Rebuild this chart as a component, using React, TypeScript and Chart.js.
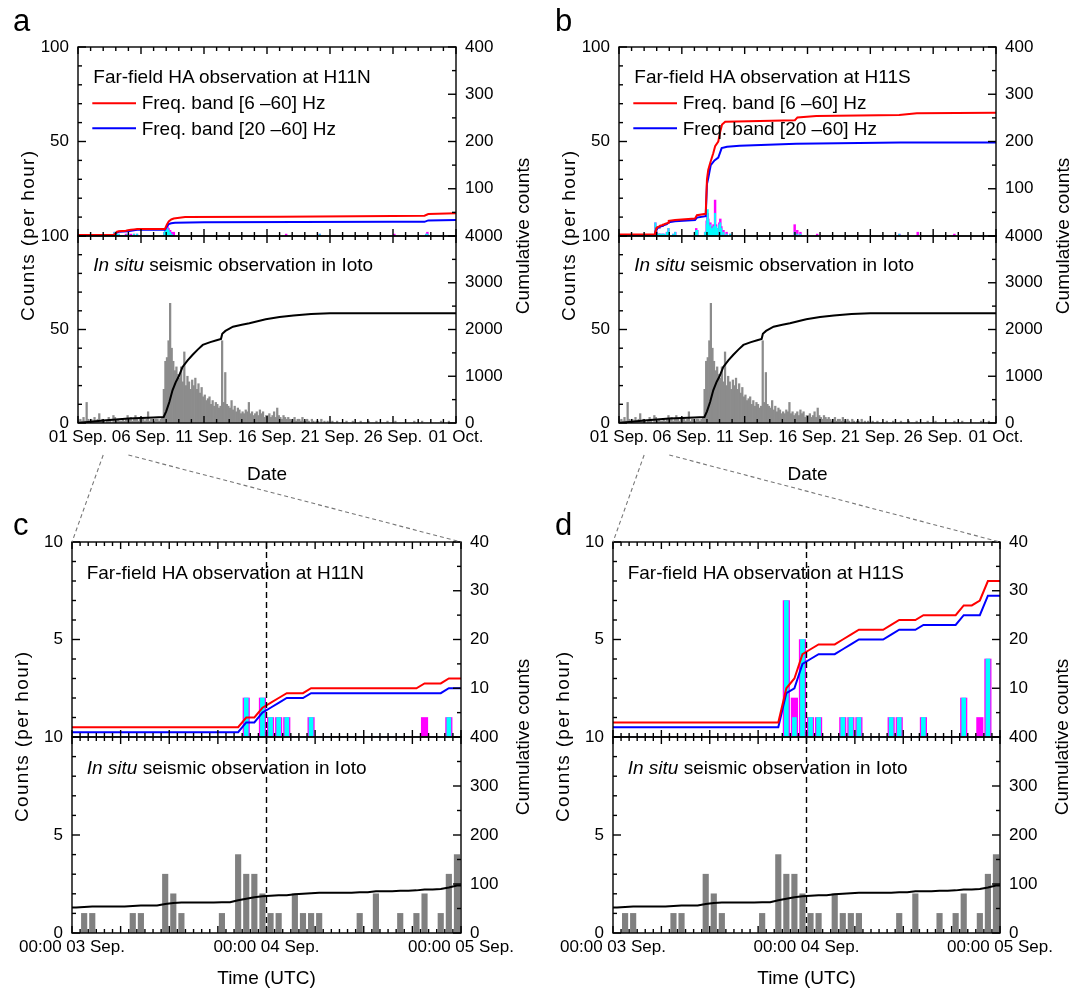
import React, { useEffect, useRef } from 'react';
import { Chart, registerables } from 'chart.js';

Chart.register(...registerables);

// ---------------- data ----------------
const MONTH_TICK_LABELS = ['01 Sep.', '06 Sep.', '11 Sep.', '16 Sep.', '21 Sep.', '26 Sep.', '01 Oct.'];
const ZOOM_TICK_LABELS = ['00:00 03 Sep.', '00:00 04 Sep.', '00:00 05 Sep.'];

// In situ seismic counts per hour, 03 Sep 00:00 .. 05 Sep 00:00 (hour 0..47)
const SEISMIC_HOURLY_SEP3_4 = [
  0, 1, 1, 0, 0, 0, 0, 1, 1, 0,
  0, 3, 2, 1, 0, 0, 0, 0, 1, 0,
  4, 3, 3, 2, 1, 1, 0, 2, 1, 1,
  1, 0, 0, 0, 0, 1, 0, 2, 0, 0,
  1, 0, 1, 2, 0, 1, 3, 4,
];
const SEISMIC_CUM_SEP3_4 = [
  52, 53, 54, 54, 54, 54, 54, 55, 56, 56,
  56, 59, 61, 62, 62, 62, 62, 62, 63, 63,
  67, 70, 73, 75, 76, 77, 77, 79, 80, 81,
  82, 82, 82, 82, 82, 83, 83, 85, 85, 85,
  86, 86, 87, 89, 89, 90, 93, 97,
];

// Far-field HA counts per hour at H11N, 03 Sep .. 05 Sep
const H11N_6_60_HOURLY = [
  0, 0, 0, 0, 0, 0, 0, 0, 0, 0,
  0, 0, 0, 0, 0, 0, 0, 0, 0, 0,
  0, 2, 0, 2, 1, 1, 1, 0, 0, 1,
  0, 0, 0, 0, 0, 0, 0, 0, 0, 0,
  0, 0, 0, 1, 0, 0, 1, 0,
];
const H11N_20_60_HOURLY = [
  0, 0, 0, 0, 0, 0, 0, 0, 0, 0,
  0, 0, 0, 0, 0, 0, 0, 0, 0, 0,
  0, 2, 0, 2, 1, 1, 1, 0, 0, 1,
  0, 0, 0, 0, 0, 0, 0, 0, 0, 0,
  0, 0, 0, 0, 0, 0, 1, 0,
];
const H11N_6_60_CUM = [
  2, 2, 2, 2, 2, 2, 2, 2, 2, 2,
  2, 2, 2, 2, 2, 2, 2, 2, 2, 2,
  2, 4, 4, 6, 7, 8, 9, 9, 9, 10,
  10, 10, 10, 10, 10, 10, 10, 10, 10, 10,
  10, 10, 10, 11, 11, 11, 12, 12,
];
const H11N_20_60_CUM = [
  1, 1, 1, 1, 1, 1, 1, 1, 1, 1,
  1, 1, 1, 1, 1, 1, 1, 1, 1, 1,
  1, 3, 3, 5, 6, 7, 8, 8, 8, 9,
  9, 9, 9, 9, 9, 9, 9, 9, 9, 9,
  9, 9, 9, 9, 9, 9, 10, 10,
];

// Far-field HA counts per hour at H11S, 03 Sep .. 05 Sep
const H11S_6_60_HOURLY = [
  0, 0, 0, 0, 0, 0, 0, 0, 0, 0,
  0, 0, 0, 0, 0, 0, 0, 0, 0, 0,
  0, 7, 2, 5, 1, 1, 0, 0, 1, 1,
  1, 0, 0, 0, 1, 1, 0, 0, 1, 0,
  0, 0, 0, 2, 0, 1, 4, 0,
];
const H11S_20_60_HOURLY = [
  0, 0, 0, 0, 0, 0, 0, 0, 0, 0,
  0, 0, 0, 0, 0, 0, 0, 0, 0, 0,
  0, 7, 1, 5, 1, 1, 0, 0, 1, 1,
  1, 0, 0, 0, 1, 1, 0, 0, 1, 0,
  0, 0, 0, 2, 0, 0, 4, 0,
];
const H11S_6_60_CUM = [
  3, 3, 3, 3, 3, 3, 3, 3, 3, 3,
  3, 3, 3, 3, 3, 3, 3, 3, 3, 3,
  3, 10, 12, 17, 18, 19, 19, 19, 20, 21,
  22, 22, 22, 22, 23, 24, 24, 24, 25, 25,
  25, 25, 25, 27, 27, 28, 32, 32,
];
const H11S_20_60_CUM = [
  2, 2, 2, 2, 2, 2, 2, 2, 2, 2,
  2, 2, 2, 2, 2, 2, 2, 2, 2, 2,
  2, 9, 10, 15, 16, 17, 17, 17, 18, 19,
  20, 20, 20, 20, 21, 22, 22, 22, 23, 23,
  23, 23, 23, 25, 25, 25, 29, 29,
];

// In situ seismic counts per hour, 3-hour bins over 01 Sep .. 01 Oct (one row per day)
const SEISMIC_3H_BINS = [
  1, 2, 1, 3, 1, 11, 2, 1,
  2, 1, 3, 1, 2, 5, 1, 2,
  1, 0, 1, 3, 2, 0, 4, 3,
  1, 2, 1, 1, 2, 1, 2, 4,
  2, 3, 1, 2, 4, 2, 1, 3,
  3, 2, 1, 2, 6, 1, 2, 2,
  1, 2, 2, 1, 2, 3, 18, 33,
  35, 44, 64, 40, 33, 28, 30, 26,
  24, 30, 22, 38, 20, 25, 22, 18,
  23, 20, 24, 18, 21, 16, 19, 14,
  15, 12, 13, 14, 10, 12, 9, 11,
  10, 8, 9, 44, 11, 27, 10, 9,
  8, 12, 7, 9, 6, 8, 7, 5,
  6, 5, 7, 6, 11, 5, 6, 4,
  5, 6, 4, 7, 5, 6, 3, 4,
  4, 5, 3, 4, 6, 3, 8, 4,
  3, 2, 4, 3, 2, 3, 2, 1,
  2, 3, 1, 2, 2, 1, 3, 1,
  1, 2, 1, 0, 2, 1, 0, 1,
  1, 0, 2, 0, 1, 0, 1, 0,
  0, 1, 0, 0, 1, 0, 0, 0,
  0, 0, 1, 0, 0, 0, 1, 0,
  0, 0, 0, 1, 0, 0, 0, 0,
  1, 0, 0, 0, 0, 1, 0, 0,
  0, 0, 0, 0, 1, 0, 0, 0,
  0, 1, 0, 0, 0, 0, 0, 0,
  0, 0, 0, 0, 0, 1, 0, 0,
  0, 0, 1, 0, 0, 0, 0, 0,
  0, 0, 0, 0, 0, 0, 1, 0,
  0, 0, 0, 1, 0, 0, 0, 0,
];
const SEISMIC_CUM_MONTH_DAY = [0, 1, 2, 3, 4, 5, 6, 6.8, 7.0, 7.25, 7.5, 7.75, 8.0, 8.3, 8.7, 9.1, 9.5, 9.9, 10.5, 11.0, 11.35, 11.45, 11.7, 12.3, 13.0, 13.6, 14.9, 16.0, 17.1, 18.5, 20.0, 30.0];
const SEISMIC_CUM_MONTH_VAL = [0, 28, 52, 75, 97, 108, 118, 128, 250, 450, 700, 870, 1000, 1200, 1340, 1460, 1570, 1670, 1730, 1770, 1800, 1910, 1970, 2060, 2100, 2135, 2220, 2265, 2300, 2330, 2345, 2350];

// HA detections outside 03-04 Sep (hour index from 01 Sep 00:00)
const H11N_EVENT_HOURS = [100, 106, 112, 164, 166, 168, 170, 172, 175, 178, 182, 396, 460, 602, 663, 665];
const H11N_EVENT_6_60 = [1, 1, 1, 2, 3, 4, 5, 4, 3, 2, 2, 1, 1, 1, 1, 2];
const H11N_EVENT_20_60 = [0, 1, 1, 2, 3, 3, 4, 3, 2, 1, 0, 0, 1, 0, 1, 1];
const H11S_EVENT_HOURS = [103, 107, 145, 147, 149, 164, 167, 168, 169, 170, 172, 174, 177, 180, 183, 185, 187, 191, 193, 195, 199, 205, 212, 335, 340, 346, 378, 535, 570, 640];
const H11S_EVENT_6_60 = [1, 2, 2, 4, 3, 2, 8, 10, 12, 9, 6, 7, 5, 6, 19, 6, 4, 7, 9, 5, 3, 2, 1, 6, 3, 2, 1, 1, 2, 1];
const H11S_EVENT_20_60 = [1, 2, 2, 3, 3, 2, 6, 9, 14, 8, 5, 6, 4, 5, 12, 5, 4, 6, 7, 4, 2, 1, 1, 2, 1, 1, 0, 1, 0, 0];

// Cumulative HA counts over the month (day since 01 Sep 00:00, value)
const H11N_6_60_MONTH_DAY = [0, 2.85, 2.9, 2.98, 3.1, 3.24, 3.8, 3.96, 4.2, 4.45, 4.7, 6.9, 7.05, 7.2, 7.4, 7.6, 8.5, 16, 25, 27.5, 27.8, 30];
const H11N_6_60_MONTH_VAL = [2, 2, 4, 6, 9, 10, 11, 12, 13, 14, 15, 15, 24, 31, 35, 37, 40, 41, 42.5, 43, 46.5, 48];
const H11N_20_60_MONTH_DAY = [0, 2.85, 2.9, 2.98, 3.1, 3.24, 3.96, 4.2, 4.45, 4.7, 6.9, 7.05, 7.2, 7.4, 7.7, 10, 25, 27.5, 27.8, 30];
const H11N_20_60_MONTH_VAL = [1, 1, 3, 5, 8, 9, 10, 11, 12, 13, 13, 20, 25, 27, 28, 29, 30, 30, 33, 34];
const H11S_6_60_MONTH_DAY = [0, 2.85, 2.9, 2.94, 2.98, 3.02, 3.06, 3.19, 3.23, 3.27, 3.44, 3.48, 3.6, 3.81, 3.9, 3.96, 4.46, 6.05, 6.2, 6.9, 7.0, 7.1, 7.25, 7.5, 7.65, 7.9, 8.05, 8.2, 8.45, 14.0, 14.2, 15.7, 22.3, 23.7, 30];
const H11S_6_60_MONTH_VAL = [3, 3, 10, 12, 17, 18, 19, 20, 21, 22, 23, 24, 25, 27, 28, 32, 34, 37, 44, 47, 120, 140, 154, 175, 190, 200, 220, 236, 242, 245, 251, 254, 256, 260, 261];
const H11S_20_60_MONTH_DAY = [0, 2.85, 2.9, 2.94, 2.98, 3.02, 3.06, 3.19, 3.23, 3.27, 3.44, 3.48, 3.6, 3.81, 3.96, 4.46, 6.05, 6.2, 6.9, 7.0, 7.1, 7.3, 7.6, 7.9, 8.17, 8.6, 9.6, 14.1, 22.4, 30];
const H11S_20_60_MONTH_VAL = [2, 2, 9, 10, 15, 16, 17, 18, 19, 20, 21, 22, 23, 25, 29, 31, 34, 39, 42, 110, 122, 150, 160, 166, 186, 189, 191, 195, 198, 198];

// ---------------- layout / style ----------------
const FONT = "'Liberation Sans', Arial, Helvetica, sans-serif";
const TICK_FONT_SIZE = 17;
const RED = '#ff0000';
const BLUE = '#0000ff';
const MAGENTA = '#ff00ff';
const CYAN = '#00ffff';
const GREY = '#808080';

const PANEL_A = { left: 78, right: 456, top: 47, mid: 236, bottom: 423 };
const PANEL_B = { left: 619, right: 996, top: 47, mid: 236, bottom: 423 };
const PANEL_C = { left: 72, right: 461, top: 542, mid: 737, bottom: 933 };
const PANEL_D = { left: 613, right: 1000, top: 542, mid: 737, bottom: 933 };

type AxisSpec = { max: number; step: number; minor: number; major: number; hideZero: boolean };
type PlotSpec = {
  left: number; top: number; width: number; height: number;
  xMax: number; xStep: number; xMinor: number; xMajor: number; xLabels: string[] | null;
  yL: AxisSpec; yR: AxisSpec; datasets: any[]; vline?: number;
};

// ---------------- dataset helpers ----------------
function hourlyBars(values: number[], color: string, thickness: number, order: number) {
  return {
    type: 'bar', data: values.map((v, h) => ({ x: h + 0.5, y: v })),
    backgroundColor: color, barThickness: thickness, grouped: false, order,
    borderWidth: 0, yAxisID: 'y', xAxisID: 'x',
  };
}
function hourlyCumLine(cum: number[], color: string) {
  const pts = [{ x: 0, y: cum[0] }, ...cum.map((v, h) => ({ x: h + 0.5, y: v })), { x: 48, y: cum[cum.length - 1] }];
  return { type: 'line', data: pts, borderColor: color, borderWidth: 2, pointRadius: 0, tension: 0, fill: false, order: 0, yAxisID: 'y1', xAxisID: 'x' };
}
function monthCumLine(days: number[], vals: number[], color: string) {
  return { type: 'line', data: days.map((d, i) => ({ x: d, y: vals[i] })), borderColor: color, borderWidth: 2, pointRadius: 0, tension: 0, fill: false, order: 0, yAxisID: 'y1', xAxisID: 'x' };
}
function monthEventBars(hours: number[], counts: number[], color: string, thickness: number, order: number) {
  return {
    type: 'bar', data: hours.map((h, i) => ({ x: (h + 0.5) / 24, y: counts[i] })),
    backgroundColor: color, barThickness: thickness, grouped: false, order, borderWidth: 0, yAxisID: 'y', xAxisID: 'x',
  };
}
const SEP3_HOURS = SEISMIC_HOURLY_SEP3_4.map((_, h) => 48 + h);

// ---------------- chart ----------------
function framePlugin(spec: PlotSpec) {
  return {
    id: 'frameTicks',
    afterDatasetsDraw(chart: any) {
      const { ctx, chartArea: a, scales } = chart;
      const xs = scales.x, yl = scales.y, yr = scales.y1;
      ctx.save();
      ctx.strokeStyle = '#000';
      ctx.lineWidth = 1.4;
      const seg = (x1: number, y1: number, x2: number, y2: number) => {
        ctx.beginPath(); ctx.moveTo(x1, y1); ctx.lineTo(x2, y2); ctx.stroke();
      };
      if (spec.vline !== undefined) {
        ctx.setLineDash([6, 4]);
        const x = xs.getPixelForValue(spec.vline);
        seg(x, a.top, x, a.bottom);
        ctx.setLineDash([]);
      }
      const nx = Math.round(spec.xMax / spec.xMinor);
      const mx = Math.round(spec.xMajor / spec.xMinor);
      for (let k = 0; k <= nx; k++) {
        const x = xs.getPixelForValue(k * spec.xMinor);
        const len = k % mx === 0 ? 7 : 4;
        seg(x, a.top, x, a.top + len);
        seg(x, a.bottom, x, a.bottom - len);
      }
      const axisTicks = (ax: AxisSpec, scale: any, left: boolean) => {
        const n = Math.round(ax.max / ax.minor);
        const m = Math.round(ax.major / ax.minor);
        for (let k = 0; k <= n; k++) {
          const y = scale.getPixelForValue(k * ax.minor);
          const len = k % m === 0 ? 8 : 4;
          if (left) seg(a.left, y, a.left + len, y);
          else seg(a.right, y, a.right - len, y);
        }
      };
      axisTicks(spec.yL, yl, true);
      axisTicks(spec.yR, yr, false);
      ctx.strokeRect(a.left, a.top, a.right - a.left, a.bottom - a.top);
      ctx.restore();
    },
  };
}

function yAxis(ax: AxisSpec, position: string) {
  return {
    type: 'linear', position, min: 0, max: ax.max,
    afterFit: (s: any) => { s.width = 60; s.paddingTop = 0; s.paddingBottom = 0; },
    grid: { display: false, drawTicks: false },
    border: { display: false },
    ticks: {
      stepSize: ax.step, padding: 9, color: '#000',
      font: { family: FONT, size: TICK_FONT_SIZE },
      callback: (v: number) => (ax.hideZero && v === 0 ? '' : String(v)),
    },
  };
}

function buildConfig(spec: PlotSpec): any {
  const hasX = !!spec.xLabels;
  return {
    type: 'bar',
    data: { datasets: spec.datasets },
    options: {
      animation: false, responsive: false, maintainAspectRatio: false, devicePixelRatio: 1,
      events: [],
      layout: { autoPadding: false, padding: { left: 0, right: 0, top: 12, bottom: hasX ? 0 : 12 } },
      plugins: { legend: { display: false }, tooltip: { enabled: false } },
      scales: {
        x: {
          type: 'linear', min: 0, max: spec.xMax, offset: false, display: hasX,
          afterFit: (s: any) => { s.height = hasX ? 34 : 0; s.paddingLeft = 0; s.paddingRight = 0; },
          grid: { display: false, drawTicks: false },
          border: { display: false },
          ticks: {
            stepSize: spec.xStep, autoSkip: false, maxRotation: 0, minRotation: 0, padding: 4,
            color: '#000', font: { family: FONT, size: TICK_FONT_SIZE },
            callback: (v: number) => (spec.xLabels ? spec.xLabels[Math.round(v / spec.xStep)] ?? '' : ''),
          },
        },
        y: yAxis(spec.yL, 'left'),
        y1: yAxis(spec.yR, 'right'),
      },
    },
    plugins: [framePlugin(spec)],
  };
}

function SubPlot({ spec }: { spec: PlotSpec }) {
  const ref = useRef<HTMLCanvasElement>(null);
  useEffect(() => {
    const chart = new Chart(ref.current as HTMLCanvasElement, buildConfig(spec));
    return () => chart.destroy();
  }, []);
  const w = spec.width + 120;
  const h = spec.height + 12 + (spec.xLabels ? 34 : 12);
  return (
    <canvas ref={ref} width={w} height={h}
      style={{ position: 'absolute', left: spec.left - 60, top: spec.top - 12, width: w, height: h }} />
  );
}

// ---------------- specs ----------------
const MONTH_X = { xMax: 30, xStep: 5, xMinor: 1, xMajor: 5 };
const ZOOM_X = { xMax: 48, xStep: 24, xMinor: 1, xMajor: 6 };
const MONTH_UP_L: AxisSpec = { max: 100, step: 50, minor: 10, major: 50, hideZero: true };
const MONTH_UP_R: AxisSpec = { max: 400, step: 100, minor: 50, major: 100, hideZero: true };
const MONTH_LO_L: AxisSpec = { max: 100, step: 50, minor: 10, major: 50, hideZero: false };
const MONTH_LO_R: AxisSpec = { max: 4000, step: 1000, minor: 500, major: 1000, hideZero: false };
const ZOOM_UP_L: AxisSpec = { max: 10, step: 5, minor: 1, major: 5, hideZero: true };
const ZOOM_UP_R: AxisSpec = { max: 40, step: 10, minor: 5, major: 10, hideZero: true };
const ZOOM_LO_L: AxisSpec = { max: 10, step: 5, minor: 1, major: 5, hideZero: false };
const ZOOM_LO_R: AxisSpec = { max: 400, step: 100, minor: 50, major: 100, hideZero: false };

function monthUpper(p: any, evHours: number[], ev660: number[], ev2060: number[], h660: number[], h2060: number[],
  rDay: number[], rVal: number[], bDay: number[], bVal: number[]): PlotSpec {
  return {
    left: p.left, top: p.top, width: p.right - p.left, height: p.mid - p.top, ...MONTH_X, xLabels: null,
    yL: MONTH_UP_L, yR: MONTH_UP_R,
    datasets: [
      monthCumLine(rDay, rVal, RED),
      monthCumLine(bDay, bVal, BLUE),
      monthEventBars([...evHours, ...SEP3_HOURS], [...ev2060, ...h2060], CYAN, 1.3, 1),
      monthEventBars([...evHours, ...SEP3_HOURS], [...ev660, ...h660], MAGENTA, 1.8, 2),
    ],
  };
}
function monthLower(p: any): PlotSpec {
  return {
    left: p.left, top: p.mid, width: p.right - p.left, height: p.bottom - p.mid, ...MONTH_X, xLabels: MONTH_TICK_LABELS,
    yL: MONTH_LO_L, yR: MONTH_LO_R,
    datasets: [
      monthCumLine(SEISMIC_CUM_MONTH_DAY, SEISMIC_CUM_MONTH_VAL, '#000'),
      {
        type: 'bar', data: SEISMIC_3H_BINS.map((v, i) => ({ x: (i + 0.5) / 8, y: v })),
        backgroundColor: '#8c8c8c', barThickness: 1.6, grouped: false, order: 3, borderWidth: 0, yAxisID: 'y', xAxisID: 'x',
      },
    ],
  };
}
function zoomUpper(p: any, h660: number[], h2060: number[], c660: number[], c2060: number[]): PlotSpec {
  return {
    left: p.left, top: p.top, width: p.right - p.left, height: p.mid - p.top, ...ZOOM_X, xLabels: null,
    yL: ZOOM_UP_L, yR: ZOOM_UP_R, vline: 24,
    datasets: [
      hourlyCumLine(c660, RED),
      hourlyCumLine(c2060, BLUE),
      hourlyBars(h2060, CYAN, 4, 1),
      hourlyBars(h660, MAGENTA, 6.5, 2),
    ],
  };
}
function zoomLower(p: any): PlotSpec {
  return {
    left: p.left, top: p.mid, width: p.right - p.left, height: p.bottom - p.mid, ...ZOOM_X, xLabels: ZOOM_TICK_LABELS,
    yL: ZOOM_LO_L, yR: ZOOM_LO_R, vline: 24,
    datasets: [
      hourlyCumLine(SEISMIC_CUM_SEP3_4, '#000'),
      hourlyBars(SEISMIC_HOURLY_SEP3_4, GREY, 5.5, 3),
    ],
  };
}

const SPECS: PlotSpec[] = [
  monthUpper(PANEL_A, H11N_EVENT_HOURS, H11N_EVENT_6_60, H11N_EVENT_20_60, H11N_6_60_HOURLY, H11N_20_60_HOURLY,
    H11N_6_60_MONTH_DAY, H11N_6_60_MONTH_VAL, H11N_20_60_MONTH_DAY, H11N_20_60_MONTH_VAL),
  monthLower(PANEL_A),
  monthUpper(PANEL_B, H11S_EVENT_HOURS, H11S_EVENT_6_60, H11S_EVENT_20_60, H11S_6_60_HOURLY, H11S_20_60_HOURLY,
    H11S_6_60_MONTH_DAY, H11S_6_60_MONTH_VAL, H11S_20_60_MONTH_DAY, H11S_20_60_MONTH_VAL),
  monthLower(PANEL_B),
  zoomUpper(PANEL_C, H11N_6_60_HOURLY, H11N_20_60_HOURLY, H11N_6_60_CUM, H11N_20_60_CUM),
  zoomLower(PANEL_C),
  zoomUpper(PANEL_D, H11S_6_60_HOURLY, H11S_20_60_HOURLY, H11S_6_60_CUM, H11S_20_60_CUM),
  zoomLower(PANEL_D),
];

// ---------------- overlay text ----------------
function PanelTexts({ p, letter, letterX, letterY, station, legend, zoom }: any) {
  const dx = zoom ? 14.7 : 15.3;
  const upBase = zoom ? 37 : 36.3;
  const loBase = zoom ? 37.3 : 34.7;
  return (
    <g fontFamily={FONT} fill="#000">
      <text x={letterX} y={letterY} fontSize={31}>{letter}</text>
      <text x={p.left + dx} y={p.top + upBase} fontSize={19}>{`Far-field HA observation at ${station}`}</text>
      {legend && (
        <g>
          <line x1={p.left + 14.3} x2={p.left + 58} y1={p.top + 56.3} y2={p.top + 56.3} stroke={RED} strokeWidth={2} />
          <line x1={p.left + 14.3} x2={p.left + 58} y1={p.top + 81.3} y2={p.top + 81.3} stroke={BLUE} strokeWidth={2} />
          <text x={p.left + 63.7} y={p.top + 62.3} fontSize={19}>Freq. band [6 –60] Hz</text>
          <text x={p.left + 63.7} y={p.top + 88} fontSize={19}>Freq. band [20 –60] Hz</text>
        </g>
      )}
      <text x={p.left + dx} y={p.mid + loBase} fontSize={19}>
        <tspan fontStyle="italic">In situ</tspan> seismic observation in Ioto
      </text>
      <text transform={`translate(${p.left - 44.5},${p.mid}) rotate(-90)`} textAnchor="middle" fontSize={19}
        textLength={170} lengthAdjust="spacing">Counts (per hour)</text>
      <text transform={`translate(${p.right + (zoom ? 68 : 73)},${p.mid}) rotate(-90)`} textAnchor="middle" fontSize={19}>Cumulative counts</text>
      <text x={(p.left + p.right) / 2} y={zoom ? 984 : 480} textAnchor="middle" fontSize={19}>{zoom ? 'Time (UTC)' : 'Date'}</text>
    </g>
  );
}

function Connectors({ from, to }: any) {
  const w = from.right - from.left;
  const x3 = from.left + (2 / 30) * w;
  const x5 = from.left + (4 / 30) * w;
  const y0 = 455;
  return (
    <g stroke="#777" strokeWidth={1.1} strokeDasharray="4 3">
      <line x1={x3} y1={y0} x2={to.left} y2={to.top} />
      <line x1={x5} y1={y0} x2={to.right} y2={to.top} />
    </g>
  );
}

export default function App() {
  return (
    <div style={{ position: 'absolute', left: 0, top: 0, width: 1084, height: 993, background: '#fff', overflow: 'hidden' }}>
      {SPECS.map((s, i) => <SubPlot key={i} spec={s} />)}
      <svg width={1084} height={993} style={{ position: 'absolute', left: 0, top: 0, pointerEvents: 'none' }}>
        <Connectors from={PANEL_A} to={PANEL_C} />
        <Connectors from={PANEL_B} to={PANEL_D} />
        <PanelTexts p={PANEL_A} letter="a" letterX={13} letterY={31} station="H11N" legend zoom={false} />
        <PanelTexts p={PANEL_B} letter="b" letterX={555} letterY={31} station="H11S" legend zoom={false} />
        <PanelTexts p={PANEL_C} letter="c" letterX={13} letterY={535} station="H11N" legend={false} zoom />
        <PanelTexts p={PANEL_D} letter="d" letterX={555} letterY={535} station="H11S" legend={false} zoom />
      </svg>
    </div>
  );
}
